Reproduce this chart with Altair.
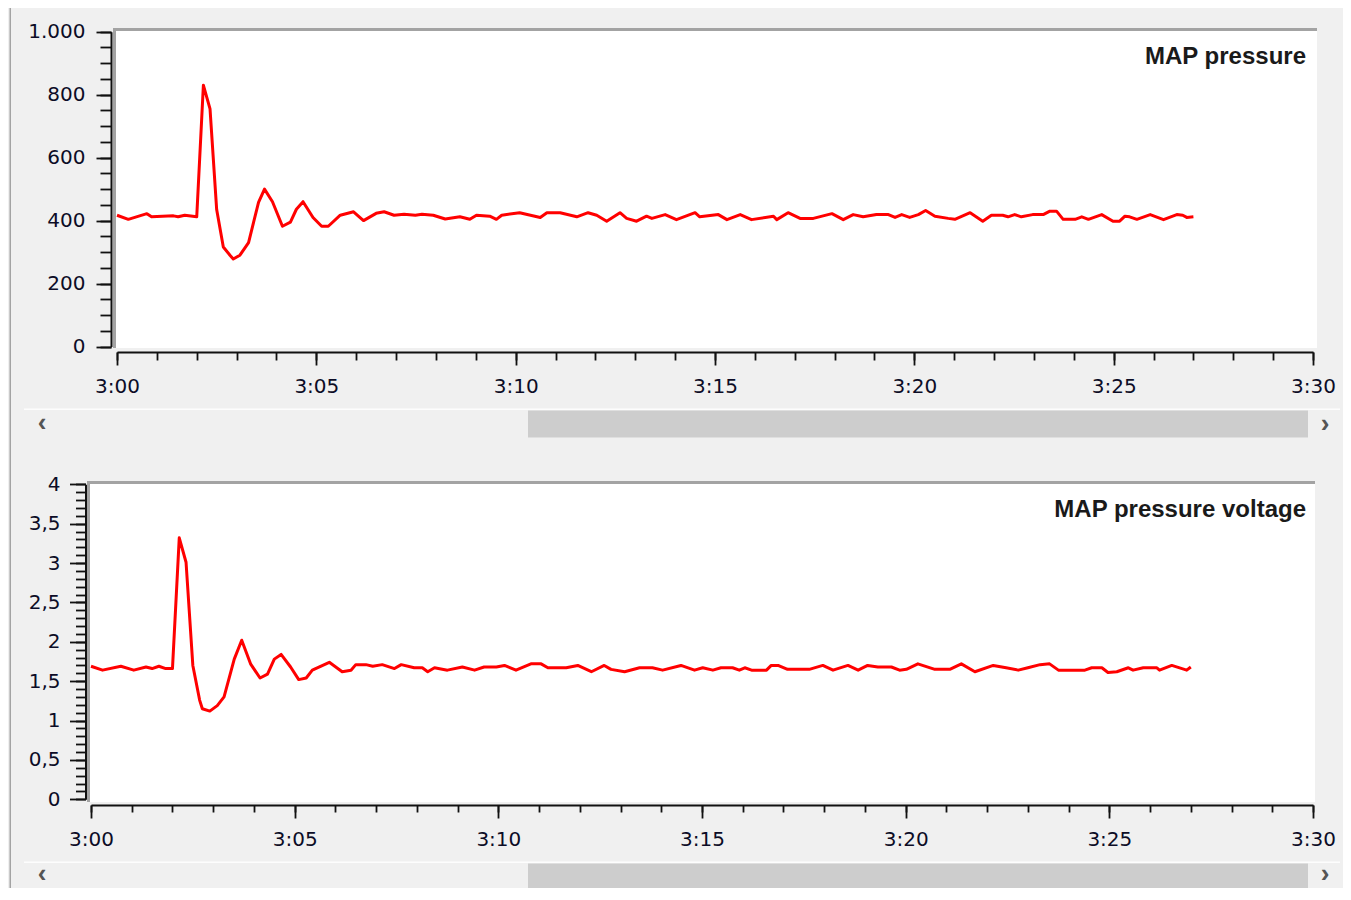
import altair as alt
import pandas as pd

# ---------------- data (seconds after 3:00) ----------------
map_time_s = [0, 17, 45, 52, 85, 92, 102, 120, 130, 140, 150, 160, 170, 175, 185, 198, 213, 222, 234, 249,
              261, 270, 280, 295, 308, 318, 336, 356, 371, 390, 402, 417, 432, 449, 459, 476, 494, 516, 531, 541,
              561, 571, 579, 606, 637, 647, 667, 692, 709, 722, 737, 757, 767, 782, 797, 805, 825, 842, 870, 877,
              905, 918, 938, 955, 988, 993, 1010, 1028, 1048, 1076, 1093, 1108, 1123, 1143, 1161, 1171, 1181, 1193,
              1206, 1217, 1231, 1251, 1261, 1284, 1303, 1316, 1333, 1341, 1351, 1361, 1378, 1394, 1404, 1414, 1424,
              1442, 1452, 1462, 1482, 1499, 1509, 1517, 1524, 1535, 1555, 1575, 1595, 1604, 1610, 1620]
map_pressure = [417, 404, 422, 412, 415, 412, 417, 412, 830, 755, 435, 316, 290, 278, 290, 330, 458, 500, 460, 382,
                395, 436, 460, 410, 382, 382, 417, 428, 400, 423, 428, 417, 420, 417, 420, 417, 405, 412, 404, 417,
                414, 404, 417, 425, 410, 425, 425, 412, 425, 417, 398, 425, 407, 398, 414, 407, 419, 403, 425, 412,
                419, 403, 419, 403, 414, 403, 425, 407, 407, 422, 403, 419, 412, 419, 419, 410, 419, 410,
                419, 432, 414, 407, 404, 425, 398, 417, 417, 412, 419, 412, 419, 419, 430, 430, 404,
                404, 412, 404, 419, 398, 398, 414, 412, 404, 419, 403, 419, 417, 410, 412]

volt_time_s = [0, 17, 44, 63, 81, 90, 100, 110, 120, 130, 140, 150, 160, 164, 175, 186, 196, 211, 222, 235,
               249, 260, 270, 280, 294, 306, 317, 326, 351, 370, 383, 390, 405, 415, 429, 447, 457, 476, 488, 496,
               506, 525, 547, 565, 579, 597, 609, 626, 648, 663, 673, 700, 717, 737, 756, 766, 786, 808, 827, 842,
               869, 889, 901, 916, 928, 945, 955, 963, 973, 995, 1002, 1012, 1026, 1058, 1078, 1093, 1115, 1130,
               1144, 1159, 1179, 1191, 1201, 1218, 1243, 1265, 1282, 1302, 1329, 1348, 1366, 1380, 1398, 1412,
               1425, 1464, 1474, 1489, 1498, 1511, 1528, 1535, 1550, 1570, 1574, 1592, 1614, 1620]
map_voltage = [1.69, 1.64, 1.69, 1.64, 1.68, 1.66, 1.69, 1.66, 1.66, 3.32, 3.01, 1.70, 1.26, 1.15, 1.12, 1.19, 1.30,
               1.78, 2.02, 1.72, 1.54, 1.59, 1.78, 1.84, 1.68, 1.52, 1.54, 1.64, 1.74, 1.62, 1.64, 1.71, 1.71, 1.69,
               1.71, 1.66, 1.71, 1.67, 1.67, 1.62, 1.67, 1.64, 1.68, 1.64, 1.68, 1.68, 1.70, 1.64, 1.72, 1.72, 1.67,
               1.67, 1.70, 1.62, 1.70, 1.65, 1.62, 1.67, 1.67, 1.64, 1.70, 1.64, 1.67, 1.64, 1.67, 1.67, 1.64, 1.67,
               1.64, 1.64, 1.70, 1.70, 1.65, 1.65, 1.70, 1.64, 1.70, 1.64, 1.70, 1.68, 1.68, 1.64, 1.65, 1.72, 1.65,
               1.65, 1.72, 1.62, 1.70, 1.67, 1.64, 1.67, 1.71, 1.72, 1.64, 1.64, 1.67, 1.67, 1.61, 1.62, 1.67, 1.64,
               1.67, 1.67, 1.64, 1.70, 1.64, 1.68]

x_major = [0, 300, 600, 900, 1200, 1500, 1800]
x_minor = list(range(0, 1801, 60))
p_major = [0, 200, 400, 600, 800, 1000]
p_minor = list(range(0, 1001, 50))
v_major = [0, 0.5, 1, 1.5, 2, 2.5, 3, 3.5, 4]
v_minor = [i / 10 for i in range(41)]
titles = ["MAP pressure", "MAP pressure voltage"]

df_p = pd.DataFrame({"t": map_time_s, "v": map_pressure})
df_v = pd.DataFrame({"t": volt_time_s, "v": map_voltage})
one = pd.DataFrame({"k": [0]})

W, H = 1335, 880
M = 8  # page margin


def L(v):
    return v - M


LABEL_FONT = "DejaVu Sans"
LABEL_COLOR = "#0c0c26"
INK = "#111111"
X_EXPR = "'3:' + (datum.value < 600 ? '0' : '') + (datum.value / 60)"


def x_axis(y_ref, values, tick, labels):
    return alt.Axis(orient="bottom", offset=L(y_ref) - H, values=values, tickSize=tick, tickWidth=1.8,
                    tickColor=INK, domain=labels, domainColor=INK, domainWidth=2, labels=labels,
                    labelExpr=X_EXPR, labelFont=LABEL_FONT, labelFontSize=20, labelColor=LABEL_COLOR,
                    labelPadding=11, labelFlush=False, labelOverlap=False, labelBound=False,
                    grid=False, title=None, zindex=2)


def y_axis(x_ref, values, tick, labels, expr, pad):
    return alt.Axis(orient="left", offset=-L(x_ref), values=values, tickSize=tick, tickWidth=1.8,
                    tickColor=INK, domain=labels, domainColor=INK, domainWidth=2, labels=labels,
                    labelExpr=expr, labelFont=LABEL_FONT, labelFontSize=20, labelColor=LABEL_COLOR,
                    labelPadding=pad, labelOverlap=False, labelBound=False, grid=False, title=None, zindex=2)


def rect(x1, x2, y1, y2, color):
    return alt.Chart(one).mark_rect(color=color).encode(
        x=alt.value(L(x1)), x2=alt.value(L(x2)), y=alt.value(L(y1)), y2=alt.value(L(y2)))


def label(txt, x, y, **kw):
    return alt.Chart(one).mark_text(**kw).encode(x=alt.value(L(x)), y=alt.value(L(y)), text=alt.value(txt))


def panel(df, xr, yr, ydom, xaxis_y, yaxis_x, ymaj, ymin, yexpr, ytick, ymtick, ypad, xmtick):
    xs = alt.Scale(domain=[0, 1800], range=[L(xr[0]), L(xr[1])], nice=False, zero=False)
    ys = alt.Scale(domain=ydom, range=[L(yr[0]), L(yr[1])], nice=False, zero=False)
    minor = alt.Chart(df).mark_line(strokeOpacity=0).encode(
        x=alt.X("t:Q", scale=xs, axis=x_axis(xaxis_y, x_minor, xmtick, False)),
        y=alt.Y("v:Q", scale=ys, axis=y_axis(yaxis_x, ymin, ymtick, False, yexpr, ypad)))
    major = alt.Chart(df).mark_line(color="#ff0000", strokeWidth=3, strokeJoin="round").encode(
        x=alt.X("t:Q", scale=xs, axis=x_axis(xaxis_y, x_major, 13, True)),
        y=alt.Y("v:Q", scale=ys, axis=y_axis(yaxis_x, ymaj, ytick, True, yexpr, ypad)))
    return [minor, major]


GRAY = "#a3a3a3"
layers = [
    rect(9.5, 11, 8, 900, GRAY),
    # top panel frame
    rect(113, 1317, 28, 348, "#ffffff"),
    rect(113, 1317, 28, 31, GRAY),
    rect(113, 116, 28, 348, GRAY),
    # bottom panel frame
    rect(87, 1315, 481, 802, "#ffffff"),
    rect(87, 1315, 481, 484, GRAY),
    rect(87, 90, 481, 802, GRAY),
    # scrollbars
    rect(24, 1340, 408.5, 410, "#fdfdfd"),
    rect(528, 1308, 410.5, 437.5, "#cdcdcd"),
    rect(24, 1340, 861.5, 863, "#fdfdfd"),
    rect(528, 1308, 863.5, 890, "#cdcdcd"),
]
layers += panel(df_p, (117, 1313), (346.5, 31.7), [0, 1000], 352, 111, p_major, p_minor,
                "datum.value == 1000 ? '1.000' : format(datum.value, 'd')", 15, 11, 11, 8)
layers += panel(df_v, (91, 1313), (799.3, 484.3), [0, 4], 805, 85.5, v_major, v_minor,
                "replace(format(datum.value, '~g'), '.', ',')", 16, 10, 9.5, 7)

tkw = dict(align="right", baseline="alphabetic", font="Liberation Sans", fontWeight="bold",
           fontSize=24, color="#1a1a1a")
akw = dict(align="center", baseline="middle", font="Liberation Sans", fontWeight="bold",
           fontSize=26, color="#555555")
layers += [
    label(titles[0], 1306, 64, **tkw),
    label(titles[1], 1306, 517, **tkw),
    label("\u2039", 42, 423, **akw),
    label("\u203a", 1325, 424, **akw),
    label("\u2039", 42, 874, **akw),
    label("\u203a", 1325, 874, **akw),
]

chart = alt.layer(*layers).resolve_scale(x="independent", y="independent").resolve_axis(
    x="independent", y="independent").properties(
    width=W, height=H, autosize=alt.AutoSizeParams(type="none"), padding=0, background="#f0f0f0"
).configure_view(stroke="transparent")

chart.save("out.html", embed_options={"renderer": "svg", "actions": False})
